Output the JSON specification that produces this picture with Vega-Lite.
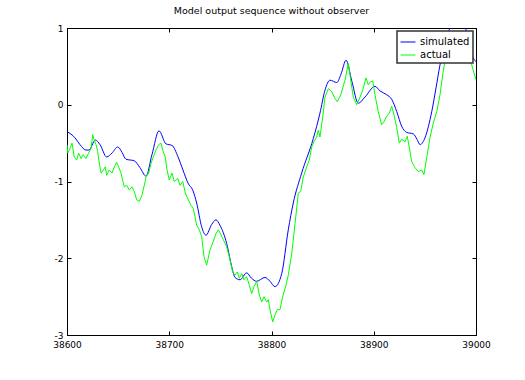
{
  "$schema": "https://vega.github.io/schema/vega-lite/v6.json",
  "autosize": "none",
  "width": 409,
  "height": 307,
  "padding": {"left": 67, "top": 28, "right": 49, "bottom": 45},
  "background": "white",
  "title": {"text": "Model output sequence without observer", "font": "DejaVu Sans", "fontSize": 9.5, "fontWeight": "normal", "color": "black", "offset": 9},
  "config": {
    "view": {"stroke": "black", "strokeWidth": 1},
    "axis": {"domainColor": "black", "tickColor": "black", "tickSize": -4, "labelColor": "black", "labelFont": "DejaVu Sans", "labelFontSize": 9, "grid": false, "title": null}
  },
  "data": {"values": [
    {"x": 38600, "y": -0.35, "series": "simulated"},
    {"x": 38607.8, "y": -0.43, "series": "simulated"},
    {"x": 38612.7, "y": -0.52, "series": "simulated"},
    {"x": 38618.6, "y": -0.59, "series": "simulated"},
    {"x": 38621.5, "y": -0.59, "series": "simulated"},
    {"x": 38627.7, "y": -0.46, "series": "simulated"},
    {"x": 38632.3, "y": -0.52, "series": "simulated"},
    {"x": 38638.8, "y": -0.68, "series": "simulated"},
    {"x": 38644, "y": -0.63, "series": "simulated"},
    {"x": 38649.6, "y": -0.55, "series": "simulated"},
    {"x": 38653.8, "y": -0.62, "series": "simulated"},
    {"x": 38657.7, "y": -0.71, "series": "simulated"},
    {"x": 38665.8, "y": -0.73, "series": "simulated"},
    {"x": 38671.4, "y": -0.82, "series": "simulated"},
    {"x": 38677.3, "y": -0.93, "series": "simulated"},
    {"x": 38683.1, "y": -0.65, "series": "simulated"},
    {"x": 38690, "y": -0.34, "series": "simulated"},
    {"x": 38696.8, "y": -0.51, "series": "simulated"},
    {"x": 38702.7, "y": -0.53, "series": "simulated"},
    {"x": 38708.6, "y": -0.68, "series": "simulated"},
    {"x": 38713.4, "y": -0.85, "series": "simulated"},
    {"x": 38718.3, "y": -1.02, "series": "simulated"},
    {"x": 38723.2, "y": -1.12, "series": "simulated"},
    {"x": 38726.8, "y": -1.28, "series": "simulated"},
    {"x": 38731.7, "y": -1.59, "series": "simulated"},
    {"x": 38735.9, "y": -1.7, "series": "simulated"},
    {"x": 38741.5, "y": -1.56, "series": "simulated"},
    {"x": 38745.7, "y": -1.5, "series": "simulated"},
    {"x": 38749.6, "y": -1.57, "series": "simulated"},
    {"x": 38756.2, "y": -1.81, "series": "simulated"},
    {"x": 38761.1, "y": -2.11, "series": "simulated"},
    {"x": 38764.3, "y": -2.25, "series": "simulated"},
    {"x": 38769.2, "y": -2.28, "series": "simulated"},
    {"x": 38775.7, "y": -2.19, "series": "simulated"},
    {"x": 38780.4, "y": -2.26, "series": "simulated"},
    {"x": 38785.5, "y": -2.3, "series": "simulated"},
    {"x": 38793.6, "y": -2.25, "series": "simulated"},
    {"x": 38798.5, "y": -2.3, "series": "simulated"},
    {"x": 38803.4, "y": -2.37, "series": "simulated"},
    {"x": 38810, "y": -2.2, "series": "simulated"},
    {"x": 38816.4, "y": -1.63, "series": "simulated"},
    {"x": 38821.3, "y": -1.28, "series": "simulated"},
    {"x": 38829.5, "y": -0.89, "series": "simulated"},
    {"x": 38840.9, "y": -0.44, "series": "simulated"},
    {"x": 38847.4, "y": -0.11, "series": "simulated"},
    {"x": 38852.3, "y": 0.19, "series": "simulated"},
    {"x": 38857.2, "y": 0.32, "series": "simulated"},
    {"x": 38863.8, "y": 0.29, "series": "simulated"},
    {"x": 38868, "y": 0.4, "series": "simulated"},
    {"x": 38872.9, "y": 0.58, "series": "simulated"},
    {"x": 38878.7, "y": 0.3, "series": "simulated"},
    {"x": 38884.9, "y": 0.02, "series": "simulated"},
    {"x": 38891.4, "y": 0.1, "series": "simulated"},
    {"x": 38901.2, "y": 0.24, "series": "simulated"},
    {"x": 38906.1, "y": 0.18, "series": "simulated"},
    {"x": 38912.7, "y": 0.13, "series": "simulated"},
    {"x": 38917.6, "y": 0.07, "series": "simulated"},
    {"x": 38922.5, "y": -0.09, "series": "simulated"},
    {"x": 38927.3, "y": -0.28, "series": "simulated"},
    {"x": 38932.2, "y": -0.36, "series": "simulated"},
    {"x": 38938.7, "y": -0.38, "series": "simulated"},
    {"x": 38942.3, "y": -0.45, "series": "simulated"},
    {"x": 38945.3, "y": -0.52, "series": "simulated"},
    {"x": 38950.1, "y": -0.43, "series": "simulated"},
    {"x": 38956.7, "y": -0.09, "series": "simulated"},
    {"x": 38960.9, "y": 0.22, "series": "simulated"},
    {"x": 38964.8, "y": 0.52, "series": "simulated"},
    {"x": 38969.7, "y": 0.83, "series": "simulated"},
    {"x": 38974.6, "y": 1.0, "series": "simulated"},
    {"x": 38979.5, "y": 1.08, "series": "simulated"},
    {"x": 38984.4, "y": 1.1, "series": "simulated"},
    {"x": 38989.2, "y": 1.02, "series": "simulated"},
    {"x": 38993.2, "y": 0.8, "series": "simulated"},
    {"x": 38996.1, "y": 0.65, "series": "simulated"},
    {"x": 39000, "y": 0.56, "series": "simulated"},

    {"x": 38600, "y": -0.52, "series": "actual"},
    {"x": 38600.7, "y": -0.63, "series": "actual"},
    {"x": 38602.9, "y": -0.57, "series": "actual"},
    {"x": 38604.9, "y": -0.5, "series": "actual"},
    {"x": 38607.1, "y": -0.68, "series": "actual"},
    {"x": 38609.5, "y": -0.72, "series": "actual"},
    {"x": 38611.4, "y": -0.63, "series": "actual"},
    {"x": 38613.7, "y": -0.7, "series": "actual"},
    {"x": 38615.9, "y": -0.65, "series": "actual"},
    {"x": 38618.6, "y": -0.7, "series": "actual"},
    {"x": 38621.2, "y": -0.63, "series": "actual"},
    {"x": 38623.5, "y": -0.57, "series": "actual"},
    {"x": 38625.1, "y": -0.39, "series": "actual"},
    {"x": 38626.7, "y": -0.46, "series": "actual"},
    {"x": 38628.4, "y": -0.52, "series": "actual"},
    {"x": 38630, "y": -0.61, "series": "actual"},
    {"x": 38631.6, "y": -0.76, "series": "actual"},
    {"x": 38633.3, "y": -0.89, "series": "actual"},
    {"x": 38635.5, "y": -0.85, "series": "actual"},
    {"x": 38637.5, "y": -0.81, "series": "actual"},
    {"x": 38638.8, "y": -0.92, "series": "actual"},
    {"x": 38641.4, "y": -0.85, "series": "actual"},
    {"x": 38644, "y": -0.89, "series": "actual"},
    {"x": 38646.3, "y": -0.81, "series": "actual"},
    {"x": 38648.6, "y": -0.75, "series": "actual"},
    {"x": 38650.6, "y": -0.81, "series": "actual"},
    {"x": 38652.8, "y": -0.89, "series": "actual"},
    {"x": 38656, "y": -1.07, "series": "actual"},
    {"x": 38658.4, "y": -1.05, "series": "actual"},
    {"x": 38660.9, "y": -1.11, "series": "actual"},
    {"x": 38663.6, "y": -1.07, "series": "actual"},
    {"x": 38665.8, "y": -1.13, "series": "actual"},
    {"x": 38668.2, "y": -1.24, "series": "actual"},
    {"x": 38670.7, "y": -1.26, "series": "actual"},
    {"x": 38673.3, "y": -1.18, "series": "actual"},
    {"x": 38675.6, "y": -1.05, "series": "actual"},
    {"x": 38677.3, "y": -0.94, "series": "actual"},
    {"x": 38679.9, "y": -0.89, "series": "actual"},
    {"x": 38682.2, "y": -0.76, "series": "actual"},
    {"x": 38684.4, "y": -0.68, "series": "actual"},
    {"x": 38687, "y": -0.59, "series": "actual"},
    {"x": 38689.7, "y": -0.52, "series": "actual"},
    {"x": 38691.9, "y": -0.5, "series": "actual"},
    {"x": 38693.6, "y": -0.59, "series": "actual"},
    {"x": 38696.1, "y": -0.68, "series": "actual"},
    {"x": 38697.8, "y": -0.85, "series": "actual"},
    {"x": 38700, "y": -0.98, "series": "actual"},
    {"x": 38702.7, "y": -0.89, "series": "actual"},
    {"x": 38704.9, "y": -1.0, "series": "actual"},
    {"x": 38708.3, "y": -0.96, "series": "actual"},
    {"x": 38710.5, "y": -1.05, "series": "actual"},
    {"x": 38713.2, "y": -1.0, "series": "actual"},
    {"x": 38715.7, "y": -1.15, "series": "actual"},
    {"x": 38718, "y": -1.22, "series": "actual"},
    {"x": 38721.3, "y": -1.31, "series": "actual"},
    {"x": 38723.5, "y": -1.35, "series": "actual"},
    {"x": 38725.2, "y": -1.46, "series": "actual"},
    {"x": 38726.8, "y": -1.57, "series": "actual"},
    {"x": 38729.4, "y": -1.63, "series": "actual"},
    {"x": 38731.7, "y": -1.72, "series": "actual"},
    {"x": 38734, "y": -1.98, "series": "actual"},
    {"x": 38736.6, "y": -2.09, "series": "actual"},
    {"x": 38739.9, "y": -1.89, "series": "actual"},
    {"x": 38743.1, "y": -1.78, "series": "actual"},
    {"x": 38745.7, "y": -1.68, "series": "actual"},
    {"x": 38748, "y": -1.63, "series": "actual"},
    {"x": 38750.1, "y": -1.68, "series": "actual"},
    {"x": 38752.9, "y": -1.76, "series": "actual"},
    {"x": 38756.2, "y": -1.85, "series": "actual"},
    {"x": 38759.4, "y": -2.02, "series": "actual"},
    {"x": 38762.1, "y": -2.18, "series": "actual"},
    {"x": 38764.3, "y": -2.22, "series": "actual"},
    {"x": 38766.6, "y": -2.18, "series": "actual"},
    {"x": 38768.5, "y": -2.26, "series": "actual"},
    {"x": 38770.9, "y": -2.2, "series": "actual"},
    {"x": 38773.1, "y": -2.28, "series": "actual"},
    {"x": 38775.7, "y": -2.24, "series": "actual"},
    {"x": 38778.3, "y": -2.35, "series": "actual"},
    {"x": 38780.6, "y": -2.46, "series": "actual"},
    {"x": 38782.9, "y": -2.37, "series": "actual"},
    {"x": 38785.5, "y": -2.3, "series": "actual"},
    {"x": 38788.1, "y": -2.48, "series": "actual"},
    {"x": 38790.4, "y": -2.57, "series": "actual"},
    {"x": 38792.7, "y": -2.5, "series": "actual"},
    {"x": 38795.3, "y": -2.57, "series": "actual"},
    {"x": 38796.9, "y": -2.54, "series": "actual"},
    {"x": 38798.5, "y": -2.67, "series": "actual"},
    {"x": 38801.2, "y": -2.83, "series": "actual"},
    {"x": 38803.4, "y": -2.74, "series": "actual"},
    {"x": 38805.7, "y": -2.67, "series": "actual"},
    {"x": 38808.3, "y": -2.67, "series": "actual"},
    {"x": 38810.9, "y": -2.5, "series": "actual"},
    {"x": 38814.2, "y": -2.35, "series": "actual"},
    {"x": 38816.4, "y": -2.22, "series": "actual"},
    {"x": 38819.8, "y": -1.94, "series": "actual"},
    {"x": 38823, "y": -1.55, "series": "actual"},
    {"x": 38826.2, "y": -1.15, "series": "actual"},
    {"x": 38828.6, "y": -1.13, "series": "actual"},
    {"x": 38831.1, "y": -0.94, "series": "actual"},
    {"x": 38834.4, "y": -0.81, "series": "actual"},
    {"x": 38837, "y": -0.72, "series": "actual"},
    {"x": 38839.3, "y": -0.55, "series": "actual"},
    {"x": 38841.6, "y": -0.48, "series": "actual"},
    {"x": 38844.2, "y": -0.42, "series": "actual"},
    {"x": 38845.8, "y": -0.33, "series": "actual"},
    {"x": 38847.4, "y": -0.42, "series": "actual"},
    {"x": 38850.1, "y": -0.16, "series": "actual"},
    {"x": 38852.3, "y": 0.1, "series": "actual"},
    {"x": 38855.6, "y": 0.21, "series": "actual"},
    {"x": 38858.9, "y": 0.17, "series": "actual"},
    {"x": 38862.1, "y": 0.08, "series": "actual"},
    {"x": 38864.4, "y": 0.04, "series": "actual"},
    {"x": 38867.7, "y": 0.13, "series": "actual"},
    {"x": 38871.9, "y": 0.32, "series": "actual"},
    {"x": 38875.1, "y": 0.54, "series": "actual"},
    {"x": 38877.5, "y": 0.32, "series": "actual"},
    {"x": 38880, "y": 0.1, "series": "actual"},
    {"x": 38883.3, "y": 0.0, "series": "actual"},
    {"x": 38886.6, "y": 0.1, "series": "actual"},
    {"x": 38889.2, "y": 0.19, "series": "actual"},
    {"x": 38892.4, "y": 0.35, "series": "actual"},
    {"x": 38894.7, "y": 0.26, "series": "actual"},
    {"x": 38897, "y": 0.3, "series": "actual"},
    {"x": 38899, "y": 0.31, "series": "actual"},
    {"x": 38901.2, "y": 0.13, "series": "actual"},
    {"x": 38904.4, "y": -0.09, "series": "actual"},
    {"x": 38907.7, "y": -0.26, "series": "actual"},
    {"x": 38910, "y": -0.22, "series": "actual"},
    {"x": 38912.7, "y": -0.15, "series": "actual"},
    {"x": 38915.2, "y": -0.11, "series": "actual"},
    {"x": 38917.6, "y": -0.02, "series": "actual"},
    {"x": 38919.8, "y": -0.13, "series": "actual"},
    {"x": 38922.5, "y": -0.3, "series": "actual"},
    {"x": 38925, "y": -0.5, "series": "actual"},
    {"x": 38927.3, "y": -0.45, "series": "actual"},
    {"x": 38930.6, "y": -0.48, "series": "actual"},
    {"x": 38932.8, "y": -0.41, "series": "actual"},
    {"x": 38934.8, "y": -0.56, "series": "actual"},
    {"x": 38937.1, "y": -0.74, "series": "actual"},
    {"x": 38940.3, "y": -0.82, "series": "actual"},
    {"x": 38943.6, "y": -0.87, "series": "actual"},
    {"x": 38946.9, "y": -0.85, "series": "actual"},
    {"x": 38949.1, "y": -0.91, "series": "actual"},
    {"x": 38951.8, "y": -0.69, "series": "actual"},
    {"x": 38955, "y": -0.43, "series": "actual"},
    {"x": 38958.2, "y": -0.24, "series": "actual"},
    {"x": 38961.6, "y": -0.09, "series": "actual"},
    {"x": 38964.8, "y": 0.13, "series": "actual"},
    {"x": 38967.4, "y": 0.39, "series": "actual"},
    {"x": 38969.7, "y": 0.57, "series": "actual"},
    {"x": 38972.9, "y": 0.65, "series": "actual"},
    {"x": 38976.5, "y": 0.78, "series": "actual"},
    {"x": 38982.4, "y": 0.87, "series": "actual"},
    {"x": 38988.3, "y": 0.84, "series": "actual"},
    {"x": 38992.2, "y": 0.71, "series": "actual"},
    {"x": 38994.1, "y": 0.61, "series": "actual"},
    {"x": 38997.4, "y": 0.44, "series": "actual"},
    {"x": 39000, "y": 0.33, "series": "actual"}
  ]},
  "encoding": {
    "x": {"field": "x", "type": "quantitative", "scale": {"domain": [38600, 39000], "nice": false, "zero": false}},
    "y": {"field": "y", "type": "quantitative", "scale": {"domain": [-3, 1], "nice": false, "zero": false}},
    "color": {"field": "series", "type": "nominal",
              "scale": {"domain": ["simulated", "actual"], "range": ["#0000ff", "#00ff00"]},
              "legend": {"title": null, "orient": "top-right", "offset": 3, "symbolType": "stroke", "symbolSize": 225, "symbolStrokeWidth": 1,
                         "labelFont": "DejaVu Sans", "labelFontSize": 10, "labelColor": "black", "labelOffset": 4, "rowPadding": 0,
                         "padding": 3, "strokeColor": "#333", "fillColor": "white",
                         "encode": {"legend": {"update": {"strokeWidth": {"value": 1.5}}}}}}
  },
  "layer": [
    {
      "transform": [{"filter": "datum.series === 'simulated'"}],
      "mark": {"type": "line", "strokeWidth": 1, "clip": true, "interpolate": "monotone"},
      "encoding": {
        "x": {"field": "x", "type": "quantitative",
              "axis": {"orient": "bottom", "values": [38600, 38700, 38800, 38900, 39000], "labelExpr": "datum.value + ''", "labelPadding": 9, "labelFlush": false}},
        "y": {"field": "y", "type": "quantitative",
              "axis": {"orient": "left", "values": [-3, -2, -1, 0, 1], "labelExpr": "datum.value + ''", "labelPadding": 8, "labelFlush": false}}
      }
    },
    {
      "transform": [{"filter": "datum.series === 'actual'"}],
      "mark": {"type": "line", "strokeWidth": 1, "clip": true},
      "encoding": {
        "x": {"field": "x", "type": "quantitative", "axis": {"orient": "top", "values": [38600, 38700, 38800, 38900, 39000], "labels": false}},
        "y": {"field": "y", "type": "quantitative", "axis": {"orient": "right", "values": [-3, -2, -1, 0, 1], "labels": false}}
      }
    }
  ],
  "resolve": {"axis": {"x": "independent", "y": "independent"}}
}
